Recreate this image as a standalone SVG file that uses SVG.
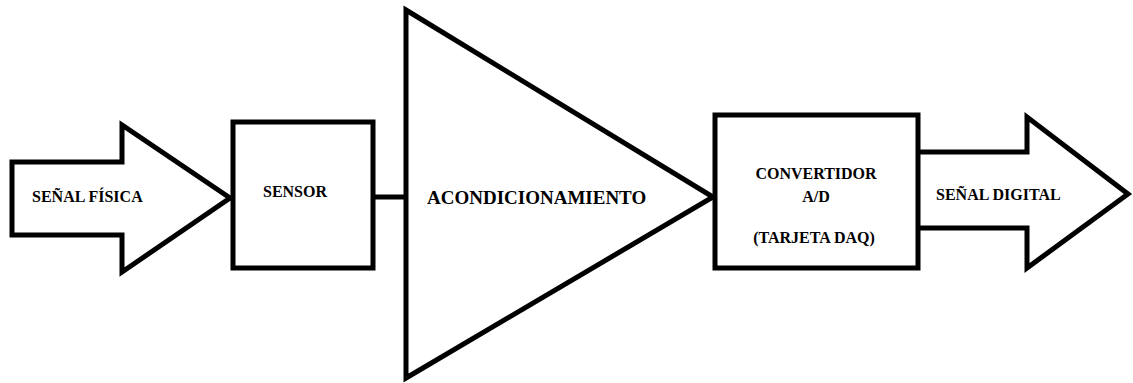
<svg xmlns="http://www.w3.org/2000/svg" width="1133" height="383" viewBox="0 0 1133 383">
<style>
.s{fill:#fff;stroke:#000;stroke-width:5;stroke-linejoin:miter}
.l{fill:none;stroke:#000;stroke-width:5}
.t{font-family:"Liberation Serif","Times New Roman",serif;font-weight:bold;font-size:16px;fill:#000}
</style>
<rect width="1133" height="383" fill="#fff"/>
<g id="connectors">
<line class="l" x1="373" y1="197" x2="406" y2="197"/>
</g>
<g id="senal-fisica">
<polygon class="s" points="12,162 122,162 122,125 230,198 122,272 122,235 12,235"/>
<text class="t" x="32" y="202">SEÑAL FÍSICA</text>
</g>
<g id="sensor">
<rect class="s" x="233" y="122" width="140" height="146"/>
<text class="t" x="295" y="197" text-anchor="middle">SENSOR</text>
</g>
<g id="acondicionamiento">
<polygon class="s" points="406,10 713,197 406,378"/>
<text class="t" x="427" y="204" style="font-size:19px">ACONDICIONAMIENTO</text>
</g>
<g id="senal-digital">
<polyline class="s" points="918,152 1027,152 1027,117 1128,194 1027,268 1027,228 918,228"/>
<text class="t" x="936" y="200">SEÑAL DIGITAL</text>
</g>
<g id="convertidor">
<rect class="s" x="715" y="115" width="203" height="153"/>
<text class="t" x="816" y="179" text-anchor="middle">CONVERTIDOR</text>
<text class="t" x="816" y="202" text-anchor="middle">A/D</text>
<text class="t" x="814" y="243" text-anchor="middle">(TARJETA DAQ)</text>
</g>
</svg>
